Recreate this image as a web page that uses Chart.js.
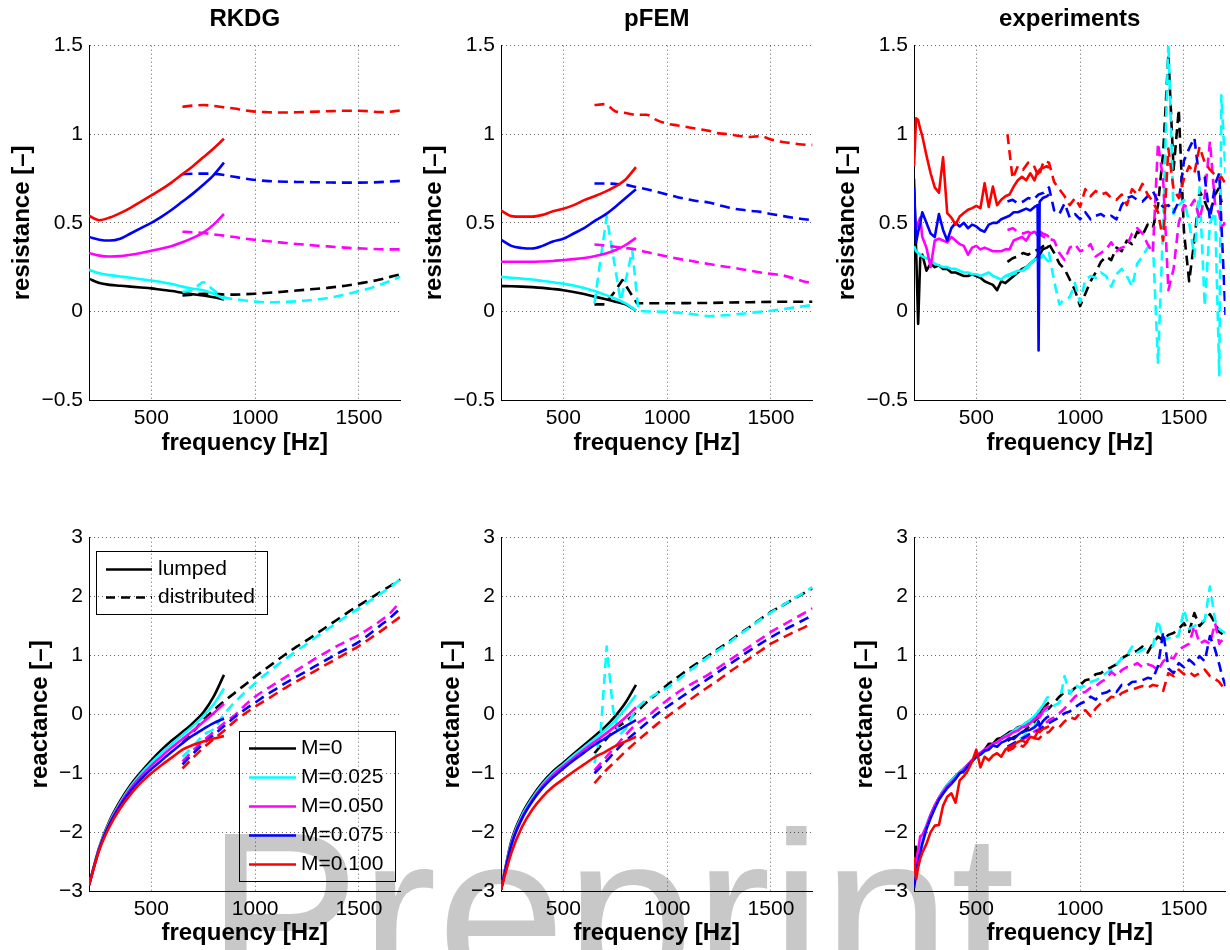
<!DOCTYPE html>
<html lang="en">
<head>
<meta charset="UTF-8">
<title>Impedance - RKDG, pFEM and experiments</title>
<script src="https://cdn.jsdelivr.net/npm/chart.js"></script>
<style>
  body { margin: 0; background: #fff; }
  #page { position: relative; width: 1230px; height: 950px; overflow: hidden; }
  #watermark {
    position: absolute; left: 206px; top: 798px;
    font: 231px/1 'Liberation Sans', Arial, sans-serif;
    color: #c8c8c8; white-space: nowrap;
  }
  canvas { position: absolute; }
</style>
</head>
<body>
<div id="page">
  <div id="watermark">Preprint</div>
  <canvas id="rkdgRes" width="405" height="460" style="left:0;top:0"></canvas>
  <canvas id="pfemRes" width="405" height="460" style="left:412px;top:0"></canvas>
  <canvas id="expRes" width="405" height="460" style="left:825px;top:0"></canvas>
  <canvas id="rkdgRea" width="405" height="460" style="left:0;top:490px"></canvas>
  <canvas id="pfemRea" width="405" height="460" style="left:412px;top:490px"></canvas>
  <canvas id="expRea" width="405" height="460" style="left:825px;top:490px"></canvas>
</div>

<script>
// ---- data (frequency in Hz, impedance normalised) ----
// series order in every block: M=0, M=0.025, M=0.050, M=0.075, M=0.100
const MACH = ['M=0', 'M=0.025', 'M=0.050', 'M=0.075', 'M=0.100'];
const LINE_TYPES = ['lumped', 'distributed'];

const X_TICKS = [500, 1000, 1500];
const RES_TICKS = [-0.5, 0, 0.5, 1, 1.5];
const REA_TICKS = [-3, -2, -1, 0, 1, 2, 3];

const LUMP_F = [200, 250, 300, 350, 400, 450, 500, 550, 600, 650, 700, 750, 800, 850];
const DIST_F = [650, 700, 750, 800, 850, 900, 950, 1000, 1050, 1100, 1150, 1200, 1250, 1300,
  1350, 1400, 1450, 1500, 1550, 1600, 1650, 1700];
const EXP_LUMP_F = [200, 210, 220, 230, 240, 260, 280, 300, 320, 340, 360, 380, 400, 420, 440,
  460, 480, 500, 520, 540, 560, 580, 600, 620, 640, 660, 680, 700, 720, 740, 760, 780, 795, 800,
  805, 820, 840, 850];
const EXP_DIST_F = [650, 675, 700, 725, 750, 775, 800, 825, 850, 875, 900, 925, 950, 975, 1000,
  1025, 1050, 1075, 1100, 1125, 1150, 1175, 1200, 1225, 1250, 1275, 1300, 1325, 1350, 1375, 1400,
  1425, 1450, 1475, 1500, 1525, 1550, 1575, 1600, 1625, 1650, 1670, 1680, 1700];

// pFEM distributed curves that jump around near 700-850 Hz
const PFEM_RES_BLACK_F = [650, 700, 740, 785, 820, 855, 900, 1000, 1100, 1200, 1300, 1400, 1500, 1600, 1700];
const PFEM_RES_CYAN_F = [650, 680, 709, 742, 776, 805, 832, 862, 900, 1000, 1100, 1200, 1300, 1400, 1500, 1600, 1700];
const PFEM_REA_CYAN_F = [650, 680, 709, 740, 770, 800, 850, 900, 950, 1000, 1050, 1100, 1150, 1200,
  1250, 1300, 1350, 1400, 1450, 1500, 1550, 1600, 1650, 1700];

// RKDG resistance
const rkdgResLump = [
  [0.185, 0.16, 0.15, 0.145, 0.14, 0.135, 0.13, 0.122, 0.115, 0.105, 0.097, 0.09, 0.08, 0.068],
  [0.235, 0.215, 0.205, 0.197, 0.19, 0.182, 0.175, 0.165, 0.155, 0.14, 0.128, 0.12, 0.1, 0.07],
  [0.33, 0.315, 0.31, 0.312, 0.32, 0.33, 0.342, 0.355, 0.37, 0.39, 0.415, 0.445, 0.49, 0.55],
  [0.42, 0.405, 0.40, 0.41, 0.44, 0.47, 0.50, 0.535, 0.575, 0.62, 0.665, 0.715, 0.77, 0.84],
  [0.54, 0.515, 0.53, 0.555, 0.585, 0.62, 0.655, 0.69, 0.73, 0.775, 0.82, 0.87, 0.92, 0.975]
];
const rkdgResDist = [
  [0.09, 0.095, 0.1, 0.1, 0.095, 0.095, 0.097, 0.1, 0.104, 0.108, 0.113, 0.118, 0.123, 0.128, 0.133, 0.14, 0.148, 0.158, 0.168, 0.18, 0.195, 0.21],
  [0.11, 0.12, 0.165, 0.12, 0.08, 0.07, 0.062, 0.056, 0.052, 0.052, 0.054, 0.057, 0.062, 0.068, 0.076, 0.087, 0.1, 0.115, 0.13, 0.15, 0.172, 0.196],
  [0.45, 0.447, 0.443, 0.435, 0.428, 0.42, 0.411, 0.404, 0.398, 0.392, 0.386, 0.381, 0.376, 0.371, 0.367, 0.363, 0.359, 0.356, 0.353, 0.351, 0.35, 0.35],
  [0.775, 0.777, 0.778, 0.777, 0.77, 0.76, 0.75, 0.742, 0.737, 0.734, 0.732, 0.731, 0.73, 0.729, 0.728, 0.727, 0.727, 0.727, 0.728, 0.73, 0.733, 0.737],
  [1.155, 1.162, 1.165, 1.16, 1.152, 1.145, 1.135, 1.128, 1.125, 1.123, 1.123, 1.124, 1.126, 1.128, 1.13, 1.132, 1.133, 1.133, 1.13, 1.125, 1.127, 1.135]
];

// pFEM resistance
const pfemResLump = [
  [0.143, 0.142, 0.14, 0.137, 0.133, 0.127, 0.12, 0.11, 0.098, 0.084, 0.07, 0.055, 0.04, 0.005],
  [0.195, 0.19, 0.185, 0.18, 0.172, 0.165, 0.157, 0.146, 0.132, 0.115, 0.095, 0.072, 0.045, 0.005],
  [0.28, 0.28, 0.28, 0.28, 0.282, 0.285, 0.29, 0.295, 0.302, 0.312, 0.325, 0.345, 0.375, 0.415],
  [0.405, 0.37, 0.358, 0.355, 0.37, 0.395, 0.41, 0.44, 0.47, 0.51, 0.545, 0.59, 0.64, 0.69],
  [0.57, 0.538, 0.535, 0.535, 0.545, 0.565, 0.58, 0.6, 0.628, 0.65, 0.675, 0.705, 0.745, 0.815]
];
const pfemResDist = [
  [0.04, 0.04, 0.1, 0.177, 0.11, 0.046, 0.046, 0.046, 0.047, 0.048, 0.05, 0.052, 0.054, 0.055, 0.055],
  [0.045, 0.3, 0.535, 0.3, 0.06, 0.2, 0.345, 0.003, 0.0, -0.002, -0.012, -0.027, -0.02, -0.008, 0.004, 0.02, 0.036],
  [0.378, 0.372, 0.365, 0.358, 0.35, 0.335, 0.322, 0.31, 0.298, 0.288, 0.278, 0.268, 0.258, 0.25, 0.24, 0.23, 0.22, 0.212, 0.205, 0.19, 0.172, 0.16],
  [0.722, 0.722, 0.72, 0.715, 0.702, 0.69, 0.675, 0.66, 0.645, 0.633, 0.622, 0.615, 0.6, 0.585, 0.575, 0.568, 0.562, 0.55, 0.54, 0.53, 0.522, 0.515],
  [1.165, 1.17, 1.13, 1.12, 1.11, 1.11, 1.08, 1.06, 1.05, 1.04, 1.03, 1.02, 1.005, 1.0, 0.99, 0.985, 0.99, 0.97, 0.958, 0.95, 0.942, 0.94]
];

// experiments resistance
const expResLump = [
  [0.75, 0.35, -0.07, 0.3, 0.32, 0.23, 0.27, 0.25, 0.26, 0.24, 0.24, 0.22, 0.22, 0.21, 0.2, 0.2, 0.21, 0.2, 0.19, 0.17, 0.16, 0.15, 0.12, 0.17, 0.16, 0.18, 0.2, 0.22, 0.24, 0.25, 0.27, 0.29, 0.31, 0.33, 0.32, 0.35, 0.36, 0.37],
  [0.37, 0.34, 0.33, 0.32, 0.31, 0.3, 0.29, 0.27, 0.26, 0.25, 0.25, 0.24, 0.24, 0.23, 0.22, 0.22, 0.21, 0.21, 0.2, 0.21, 0.22, 0.2, 0.19, 0.18, 0.2, 0.21, 0.22, 0.23, 0.23, 0.25, 0.27, 0.29, 0.3, 0.31, 0.3, 0.32, 0.29, 0.28],
  [0.54, 0.47, 0.5, 0.53, 0.42, 0.36, 0.25, 0.4, 0.41, 0.4, 0.39, 0.42, 0.4, 0.38, 0.37, 0.32, 0.36, 0.37, 0.35, 0.36, 0.35, 0.34, 0.34, 0.34, 0.35, 0.35, 0.4, 0.41, 0.42, 0.4, 0.44, 0.45, 0.43, 0.44, 0.45, 0.44, 0.43, 0.42],
  [0.7, 0.39, 0.45, 0.5, 0.56, 0.5, 0.44, 0.42, 0.55, 0.46, 0.4, 0.47, 0.5, 0.48, 0.5, 0.47, 0.49, 0.48, 0.46, 0.45, 0.49, 0.5, 0.5, 0.52, 0.53, 0.54, 0.56, 0.56, 0.57, 0.58, 0.57, 0.59, 0.6, -0.22, 0.62, 0.64, 0.65, 0.66],
  [0.82, 1.09, 1.08, 1.03, 0.99, 0.88, 0.78, 0.7, 0.67, 0.87, 0.555, 0.53, 0.49, 0.536, 0.555, 0.574, 0.583, 0.596, 0.583, 0.724, 0.59, 0.705, 0.6, 0.63, 0.65, 0.66, 0.705, 0.74, 0.76, 0.74, 0.78, 0.74, 0.79, 0.78, 0.8, 0.81, 0.82, 0.81]
];
const expResDist = [
  [0.28, 0.3, 0.31, 0.33, 0.32, 0.34, 0.35, 0.37, 0.38, 0.33, 0.27, 0.24, 0.18, 0.12, 0.03, 0.1, 0.17, 0.22, 0.28, 0.31, 0.29, 0.36, 0.34, 0.4, 0.38, 0.45, 0.43, 0.49, 0.47, 0.6, 0.9, 1.45, 0.8, 1.14, 0.45, 0.17, 0.4, 0.68, 0.62, 0.55, 0.66, 0.7, 0.62, 0.6],
  [0.2, 0.21, 0.22, 0.23, 0.25, 0.29, 0.3, 0.31, 0.33, 0.17, 0.04, 0.07, 0.08, 0.16, 0.05, 0.18, 0.2, 0.19, 0.22, 0.2, 0.14, 0.21, 0.24, 0.2, 0.14, 0.27, 0.31, 0.36, 0.4, -0.29, 0.5, 1.52, 0.55, 0.6, 0.63, 0.5, 0.31, 0.7, 0.03, 0.5, 0.56, -0.36, 1.22, 0.78],
  [0.46, 0.47, 0.45, 0.44, 0.45, 0.43, 0.44, 0.42, 0.41, 0.4, 0.33, 0.29, 0.36, 0.38, 0.34, 0.35, 0.38, 0.31, 0.33, 0.35, 0.39, 0.34, 0.36, 0.37, 0.44, 0.47, 0.44, 0.38, 0.33, 0.95, 0.74, 0.12, 0.24, 0.5, 0.6, 0.58, 0.63, 0.52, 0.65, 0.96, 0.6, 0.55, 0.48, 0.5],
  [0.62, 0.63, 0.61, 0.62, 0.64, 0.63, 0.66, 0.67, 0.7, 0.57, 0.55, 0.61, 0.53, 0.55, 0.52, 0.56, 0.52, 0.54, 0.55, 0.53, 0.54, 0.52, 0.6, 0.64, 0.65, 0.63, 0.62, 0.65, 0.68, 0.62, 0.59, 0.6, 0.56, 0.62, 0.85, 0.92, 0.98, 0.74, 0.76, 0.52, 0.72, 0.78, 0.5, -0.02],
  [1.0, 0.75, 0.82, 0.8, 0.84, 0.83, 0.76, 0.85, 0.84, 0.73, 0.69, 0.65, 0.6, 0.64, 0.59, 0.69, 0.65, 0.68, 0.66, 0.67, 0.64, 0.63, 0.66, 0.6, 0.69, 0.66, 0.72, 0.66, 0.62, 0.56, 0.4, 0.92, 0.69, 0.64, 0.75, 0.82, 0.78, 0.93, 0.84, 0.8, 0.77, 0.75, 0.76, 0.72]
];

// RKDG reactance
const rkdgReaLump = [
  [-2.9, -2.25, -1.8, -1.47, -1.2, -0.98, -0.78, -0.6, -0.44, -0.3, -0.15, 0.03, 0.3, 0.67],
  [-2.9, -2.26, -1.82, -1.5, -1.23, -1.01, -0.82, -0.65, -0.5, -0.35, -0.2, -0.03, 0.17, 0.44],
  [-2.9, -2.27, -1.84, -1.52, -1.26, -1.05, -0.87, -0.71, -0.56, -0.42, -0.28, -0.13, 0.02, 0.18],
  [-2.9, -2.28, -1.86, -1.55, -1.3, -1.1, -0.93, -0.78, -0.63, -0.49, -0.36, -0.25, -0.15, -0.07],
  [-2.9, -2.3, -1.9, -1.6, -1.36, -1.16, -1.0, -0.86, -0.73, -0.6, -0.52, -0.46, -0.41, -0.37]
];
const rkdgReaDist = [
  [-0.49, -0.3, -0.1, 0.07, 0.22, 0.36, 0.5, 0.64, 0.77, 0.9, 1.03, 1.15, 1.26, 1.38, 1.5, 1.62, 1.74, 1.85, 1.96, 2.07, 2.18, 2.29],
  [-0.72, -0.55, -0.35, -0.25, 0.0, 0.2, 0.37, 0.53, 0.68, 0.82, 0.95, 1.08, 1.2, 1.33, 1.45, 1.57, 1.69, 1.8, 1.92, 2.04, 2.16, 2.3],
  [-0.8, -0.62, -0.45, -0.3, -0.15, -0.02, 0.15, 0.3, 0.42, 0.53, 0.64, 0.75, 0.86, 0.97, 1.07, 1.17, 1.26, 1.35, 1.46, 1.58, 1.72, 1.92],
  [-0.85, -0.67, -0.5, -0.35, -0.2, -0.05, 0.08, 0.2, 0.32, 0.43, 0.54, 0.64, 0.74, 0.84, 0.94, 1.04, 1.13, 1.23, 1.36, 1.5, 1.64, 1.8],
  [-0.92, -0.74, -0.57, -0.42, -0.28, -0.12, 0.01, 0.13, 0.24, 0.35, 0.46, 0.56, 0.66, 0.76, 0.86, 0.96, 1.06, 1.16, 1.28, 1.4, 1.53, 1.66]
];

// pFEM reactance
const pfemReaLump = [
  [-2.98, -2.15, -1.7, -1.4, -1.16, -0.97, -0.82, -0.67, -0.52, -0.37, -0.22, -0.03, 0.2, 0.5],
  [-2.98, -2.18, -1.73, -1.43, -1.19, -1.0, -0.85, -0.7, -0.56, -0.42, -0.27, -0.1, 0.1, 0.33],
  [-2.98, -2.2, -1.76, -1.46, -1.22, -1.03, -0.88, -0.74, -0.6, -0.47, -0.34, -0.2, -0.05, 0.12],
  [-2.98, -2.22, -1.78, -1.48, -1.25, -1.07, -0.92, -0.78, -0.65, -0.52, -0.41, -0.3, -0.2, -0.1],
  [-2.98, -2.35, -1.92, -1.62, -1.4, -1.23, -1.1, -0.97, -0.85, -0.73, -0.64, -0.54, -0.46, -0.38]
];
const pfemReaDist = [
  [-0.66, -0.45, -0.25, -0.12, 0.03, 0.2, 0.35, 0.5, 0.63, 0.76, 0.88, 1.0, 1.12, 1.24, 1.37, 1.49, 1.62, 1.74, 1.84, 1.94, 2.04, 2.14],
  [-0.83, -0.3, 1.15, 0.07, -0.35, -0.25, 0.1, 0.25, 0.35, 0.45, 0.58, 0.72, 0.85, 0.98, 1.1, 1.22, 1.36, 1.48, 1.61, 1.73, 1.84, 1.95, 2.05, 2.16],
  [-0.95, -0.75, -0.55, -0.35, -0.17, -0.05, 0.1, 0.24, 0.37, 0.48, 0.58, 0.68, 0.8, 0.92, 1.04, 1.16, 1.28, 1.4, 1.5, 1.6, 1.7, 1.8],
  [-1.0, -0.82, -0.63, -0.45, -0.3, -0.15, 0.0, 0.13, 0.25, 0.37, 0.49, 0.61, 0.73, 0.85, 0.97, 1.09, 1.2, 1.31, 1.41, 1.5, 1.59, 1.68],
  [-1.17, -0.97, -0.8, -0.63, -0.47, -0.32, -0.17, -0.04, 0.09, 0.22, 0.35, 0.47, 0.59, 0.72, 0.84, 0.96, 1.08, 1.2, 1.29, 1.38, 1.46, 1.55]
];

// experiments reactance
const expReaLump = [
  [-2.8, -2.25, -2.55, -2.3, -2.15, -1.92, -1.72, -1.55, -1.42, -1.3, -1.2, -1.12, -1.05, -0.98, -0.92, -0.85, -0.78, -0.72, -0.68, -0.6, -0.5, -0.5, -0.42, -0.4, -0.35, -0.3, -0.28, -0.22, -0.2, -0.15, -0.1, -0.05, 0.0, 0.05, 0.02, 0.12, 0.17, 0.2],
  [-2.85, -2.55, -2.35, -2.2, -2.08, -1.88, -1.7, -1.55, -1.42, -1.3, -1.2, -1.12, -1.05, -0.98, -0.92, -0.86, -0.79, -0.73, -0.68, -0.63, -0.57, -0.52, -0.47, -0.42, -0.37, -0.33, -0.28, -0.23, -0.2, -0.14, -0.1, -0.03, 0.03, 0.05, 0.08, 0.15, 0.28, 0.3],
  [-2.7, -2.5, -2.3, -2.07, -2.05, -1.9, -1.7, -1.55, -1.42, -1.32, -1.22, -1.15, -1.08, -1.0, -0.93, -0.85, -0.78, -0.7, -0.65, -0.6, -0.55, -0.5, -0.48, -0.42, -0.38, -0.35, -0.3, -0.28, -0.22, -0.2, -0.15, -0.08, -0.05, 0.0, -0.05, 0.05, 0.12, 0.14],
  [-2.95, -2.7, -2.5, -2.35, -2.2, -1.95, -1.76, -1.6, -1.45, -1.35, -1.25, -1.18, -1.1, -1.0, -0.97, -0.88, -0.8, -0.72, -0.68, -0.62, -0.6, -0.53, -0.55, -0.48, -0.45, -0.4, -0.42, -0.35, -0.3, -0.28, -0.26, -0.22, -0.17, -0.12, -0.2, -0.12, -0.05, -0.03],
  [-2.42, -2.8, -2.6, -2.45, -2.35, -2.2, -2.0, -1.89, -1.88, -1.55, -1.4, -1.34, -1.5, -1.12, -1.05, -0.95, -0.8, -0.6, -0.9, -0.72, -0.78, -0.7, -0.66, -0.72, -0.6, -0.55, -0.52, -0.47, -0.44, -0.48, -0.38, -0.4, -0.3, -0.28, -0.3, -0.25, -0.22, -0.2]
];
const expReaDist = [
  [-0.45, -0.4, -0.35, -0.3, -0.22, -0.15, -0.05, 0.05, 0.1, 0.2, 0.3, 0.38, 0.36, 0.45, 0.5, 0.58, 0.6, 0.68, 0.7, 0.76, 0.8, 0.85, 0.95, 1.0, 1.05, 1.08, 1.15, 1.05, 1.2, 1.32, 1.25, 1.35, 1.38, 1.45, 1.55, 1.4, 1.72, 1.5, 1.6, 1.7, 1.55, 1.4, 1.38, 1.3],
  [-0.6, -0.52, -0.45, -0.38, -0.3, -0.22, -0.1, 0.05, 0.1, 0.15, 0.2, 0.65, 0.35, 0.5, 0.45, 0.5, 0.55, 0.58, 0.62, 0.7, 0.75, 0.85, 0.95, 1.0, 1.15, 1.05, 1.1, 1.12, 1.15, 1.6, 1.25, 1.3, 1.28, 1.35, 1.78, 1.45, 1.5, 1.55, 1.6, 2.17, 1.6, 1.45, 1.42, 1.38],
  [-0.62, -0.55, -0.5, -0.42, -0.38, -0.3, -0.25, -0.18, -0.1, -0.05, 0.02, 0.1, 0.2, 0.3, 0.36, 0.38, 0.45, 0.48, 0.55, 0.6, 0.72, 0.65, 0.75, 0.8, 0.82, 0.87, 0.8, 0.85, 0.82, 0.75, 0.9, 0.98, 0.95, 1.1, 1.15, 1.2, 1.5, 1.2, 1.25, 1.2, 1.55, 1.2, 1.25, 1.15],
  [-0.55, -0.5, -0.45, -0.4, -0.35, -0.3, -0.28, -0.2, -0.15, -0.1, -0.05, 0.02, 0.05, 0.12, 0.18, 0.22, 0.3, 0.25, 0.35, 0.37, 0.42, 0.38, 0.5, 0.48, 0.55, 0.56, 0.58, 0.62, 0.6, 0.82, 1.4, 0.78, 0.7, 0.87, 0.8, 0.93, 0.85, 0.99, 0.9, 1.33, 1.1, 0.85, 0.7, 0.48],
  [-0.62, -0.58, -0.5, -0.55, -0.45, -0.4, -0.42, -0.33, -0.3, -0.2, -0.22, -0.12, -0.05, -0.08, 0.02, 0.07, -0.03, 0.1, 0.19, 0.22, 0.3, 0.28, 0.36, 0.4, 0.42, 0.45, 0.48, 0.45, 0.5, 0.48, 0.4, 0.7, 0.65, 0.76, 0.68, 0.72, 0.65, 0.7, 0.76, 0.65, 0.6, 0.55, 0.5, 0.42]
];

// ---- styling ----
const COLORS = ['#000000', '#00ffff', '#ff00ff', '#0000ff', '#ff0000'];
const FONT = "'Liberation Sans', Arial, Helvetica, sans-serif";
const GRID_COLOR = 'rgba(0, 0, 0, 0.6)';
const DASH = [10, 6];

Chart.defaults.font.family = FONT;
Chart.defaults.color = '#000';

function fmtTick(v) {
  return v < 0 ? '\u2212' + String(-v) : String(v);
}

function lineSet(freqs, vals, i, dashed, smooth) {
  return {
    label: MACH[i] + ' ' + LINE_TYPES[dashed ? 1 : 0],
    data: freqs.map((f, k) => ({ x: f, y: vals[k] })),
    borderColor: COLORS[i],
    borderWidth: 2.6,
    borderDash: dashed ? DASH : [],
    borderJoinStyle: 'round',
    pointRadius: 0,
    tension: 0,
    cubicInterpolationMode: smooth ? 'monotone' : 'default',
    order: 4 - i   // M=0.100 ends up on top
  };
}

// distF is either one grid for all five curves or a list of grids
function makeSets(lumpF, lump, distF, dist, smooth) {
  const sets = [];
  lump.forEach((v, i) => sets.push(lineSet(lumpF, v, i, false, smooth)));
  dist.forEach((v, i) => {
    const f = Array.isArray(distF[i]) ? distF[i] : distF;
    sets.push(lineSet(f, v, i, true, smooth && f === DIST_F));
  });
  return sets;
}

// both legend boxes sit inside the RKDG reactance panel
const legendBoxes = {
  id: 'legendBoxes',
  afterDatasetsDraw(chart) {
    const ctx = chart.ctx;
    const sample = (x1, x2, y, color, dash) => {
      ctx.save();
      ctx.strokeStyle = color;
      ctx.lineWidth = 2.6;
      ctx.setLineDash(dash);
      ctx.beginPath();
      ctx.moveTo(x1, y);
      ctx.lineTo(x2, y);
      ctx.stroke();
      ctx.restore();
    };
    ctx.save();
    ctx.strokeStyle = '#000';
    ctx.lineWidth = 1;
    ctx.font = '21px ' + FONT;
    ctx.fillStyle = '#000';
    ctx.textBaseline = 'middle';

    ctx.strokeRect(96.5, 61.5, 171, 63);
    LINE_TYPES.forEach((t, k) => {
      const y = 79.5 + k * 28;
      sample(106, 152, y, '#000', k ? [9, 6] : []);
      ctx.fillText(t, 158, y);
    });

    ctx.strokeRect(239.5, 241.5, 156, 150);
    MACH.forEach((m, k) => {
      const y = 258.5 + k * 29;
      sample(249, 296, y, COLORS[k], []);
      ctx.fillText(m, 301, y);
    });
    ctx.restore();
  }
};

function makePanel(id, cfg) {
  const topRow = !!cfg.title;
  return new Chart(document.getElementById(id), {
    type: 'line',
    data: { datasets: cfg.datasets },
    options: {
      responsive: false,
      animation: false,
      events: [],
      layout: { padding: { left: 0, right: 4.5, top: topRow ? 0 : 47.7, bottom: 0 } },
      plugins: {
        legend: { display: false },
        tooltip: { enabled: false },
        title: {
          display: topRow,
          text: cfg.title || '',
          fullSize: false,
          color: '#000',
          font: { size: 24, weight: 'bold' },
          padding: { top: 4.6, bottom: 12.3 }
        }
      },
      scales: {
        x: {
          type: 'linear',
          min: 200,
          max: 1700,
          afterBuildTicks: s => { s.ticks = X_TICKS.map(v => ({ value: v })); },
          afterFit: s => { s.height = topRow ? 60 : 59; },
          grid: { color: GRID_COLOR, lineWidth: 1, drawTicks: false },
          border: { display: true, color: '#000', width: 1, dash: [1, 3] },
          ticks: { color: '#000', font: { size: 21 }, padding: 6, maxRotation: 0, autoSkip: false, callback: fmtTick },
          title: {
            display: true, text: 'frequency [Hz]', color: '#000',
            font: { size: 24, weight: 'bold' }, padding: { top: 0, bottom: 2 }
          }
        },
        y: {
          type: 'linear',
          min: cfg.yTicks[0],
          max: cfg.yTicks[cfg.yTicks.length - 1],
          afterBuildTicks: s => { s.ticks = cfg.yTicks.map(v => ({ value: v })); },
          afterFit: s => { s.width = 89; },
          grid: { color: GRID_COLOR, lineWidth: 1, drawTicks: false },
          border: { display: true, color: '#000', width: 1, dash: [1, 3] },
          ticks: { color: '#000', font: { size: 21 }, padding: 6, autoSkip: false, callback: fmtTick },
          title: {
            display: true, text: cfg.yTitle, color: '#000',
            font: { size: 24, weight: 'bold' }, padding: { top: topRow ? 7.6 : 25.6, bottom: 0 }
          }
        }
      }
    },
    plugins: cfg.plugins || []
  });
}

const RES_LABEL = 'resistance [\u2013]';
const REA_LABEL = 'reactance [\u2013]';

makePanel('rkdgRes', {
  title: 'RKDG', yTitle: RES_LABEL, yTicks: RES_TICKS,
  datasets: makeSets(LUMP_F, rkdgResLump, DIST_F, rkdgResDist, true)
});
makePanel('pfemRes', {
  title: 'pFEM', yTitle: RES_LABEL, yTicks: RES_TICKS,
  datasets: makeSets(LUMP_F, pfemResLump,
    [PFEM_RES_BLACK_F, PFEM_RES_CYAN_F, DIST_F, DIST_F, DIST_F], pfemResDist, true)
});
makePanel('expRes', {
  title: 'experiments', yTitle: RES_LABEL, yTicks: RES_TICKS,
  datasets: makeSets(EXP_LUMP_F, expResLump, EXP_DIST_F, expResDist, false)
});
makePanel('rkdgRea', {
  yTitle: REA_LABEL, yTicks: REA_TICKS,
  datasets: makeSets(LUMP_F, rkdgReaLump, DIST_F, rkdgReaDist, true),
  plugins: [legendBoxes]
});
makePanel('pfemRea', {
  yTitle: REA_LABEL, yTicks: REA_TICKS,
  datasets: makeSets(LUMP_F, pfemReaLump,
    [DIST_F, PFEM_REA_CYAN_F, DIST_F, DIST_F, DIST_F], pfemReaDist, true)
});
makePanel('expRea', {
  yTitle: REA_LABEL, yTicks: REA_TICKS,
  datasets: makeSets(EXP_LUMP_F, expReaLump, EXP_DIST_F, expReaDist, false)
});
</script>
</body>
</html>
